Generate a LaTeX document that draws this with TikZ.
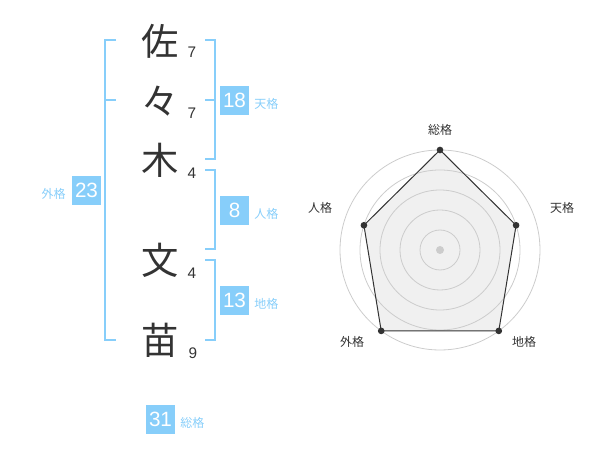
\documentclass[tikz,border=0pt]{standalone}
\usepackage{fontspec}
\setmainfont{Liberation Sans}
\newfontfamily\jp{Noto Sans CJK JP}
\usetikzlibrary{calc}
\definecolor{sky}{RGB}{135,206,250}
\definecolor{ink}{RGB}{51,51,51}
\definecolor{ringc}{RGB}{204,204,204}
\definecolor{areac}{RGB}{240,240,240}
\begin{document}
\begin{tikzpicture}[x=0.75pt,y=-0.75pt,
  kanji/.style={font=\jp\fontsize{28}{28}\selectfont, text=ink, inner sep=0pt},
  strokes/.style={font=\fontsize{11.5}{11.5}\selectfont, text=ink, inner sep=0pt},
  numbox/.style={fill=sky, text=white, minimum size=21.75pt, inner sep=0pt, font=\fontsize{15.5}{15.5}\selectfont},
  kaku/.style={font=\jp\fontsize{9}{9}\selectfont, text=sky, inner sep=0pt},
  axislabel/.style={font=\jp\fontsize{9}{9}\selectfont, text=ink, inner sep=0pt},
  bracket/.style={draw=sky, line width=1.5pt},
  ring/.style={draw=ringc, line width=0.6pt},
  vertexdot/.style={fill=ink}]
\useasboundingbox (0,0) rectangle (600,470);

% name characters
\node[kanji] (c1) at (160,41) {佐};
\node[kanji] (c2) at (160,101) {々};
\node[kanji] (c3) at (160,160) {木};
\node[kanji] (c4) at (160,260) {文};
\node[kanji] (c5) at (160,340) {苗};
% stroke counts
\node[strokes] (s1) at (192,52) {7};
\node[strokes] (s2) at (192,113) {7};
\node[strokes] (s3) at (192,173) {4};
\node[strokes] (s4) at (192,273) {4};
\node[strokes] (s5) at (193,353) {9};

% brackets
\draw[bracket] (116,40) -- (105,40) -- (105,340) -- (116,340);
\draw[bracket] (105,100) -- (116,100);
\draw[bracket] (205,40) -- (215,40) -- (215,159) -- (205,159);
\draw[bracket] (205,100) -- (215,100);
\draw[bracket] (205,170) -- (215,170) -- (215,249) -- (205,249);
\draw[bracket] (205,260) -- (215,260) -- (215,340) -- (205,340);

% boxes and labels
\node[numbox] (ten) at (234.5,100.5) {18};
\node[kaku, anchor=west] (tenl) at (254,104) {天格};
\node[numbox] (jin) at (234.5,210.5) {8};
\node[kaku, anchor=west] (jinl) at (254,214) {人格};
\node[numbox] (chi) at (234.5,300.5) {13};
\node[kaku, anchor=west] (chil) at (254,304) {地格};
\node[numbox] (gai) at (86.5,190.5) {23};
\node[kaku, anchor=east] (gail) at (66,194) {外格};
\node[numbox] (sou) at (160.5,419) {31};
\node[kaku, anchor=west] (soul) at (180,423) {総格};

% radar chart
\coordinate (c) at (440,250);
\coordinate (p1) at ($(c)+(-90:100)$);
\coordinate (p2) at ($(c)+(-18:80)$);
\coordinate (p3) at ($(c)+(54:100)$);
\coordinate (p4) at ($(c)+(126:100)$);
\coordinate (p5) at ($(c)+(198:80)$);
\fill[areac] (p1) -- (p2) -- (p3) -- (p4) -- (p5) -- cycle;
\foreach \r in {20,40,60,80,100} \draw[ring] (c) circle (\r*0.75pt);
\fill[ringc] (c) circle (3pt);
\draw[ink, line width=0.75pt] (p1) -- (p2) -- (p3) -- (p4) -- (p5) -- cycle;
\foreach \p in {p1,p2,p3,p4,p5} \fill[vertexdot] (\p) circle (2.5pt);

\node[axislabel] (l1) at (440,130) {総格};
\node[axislabel] (l2) at (562,208) {天格};
\node[axislabel] (l3) at (524,342) {地格};
\node[axislabel] (l4) at (352,342) {外格};
\node[axislabel] (l5) at (320,208) {人格};
\end{tikzpicture}
\end{document}
